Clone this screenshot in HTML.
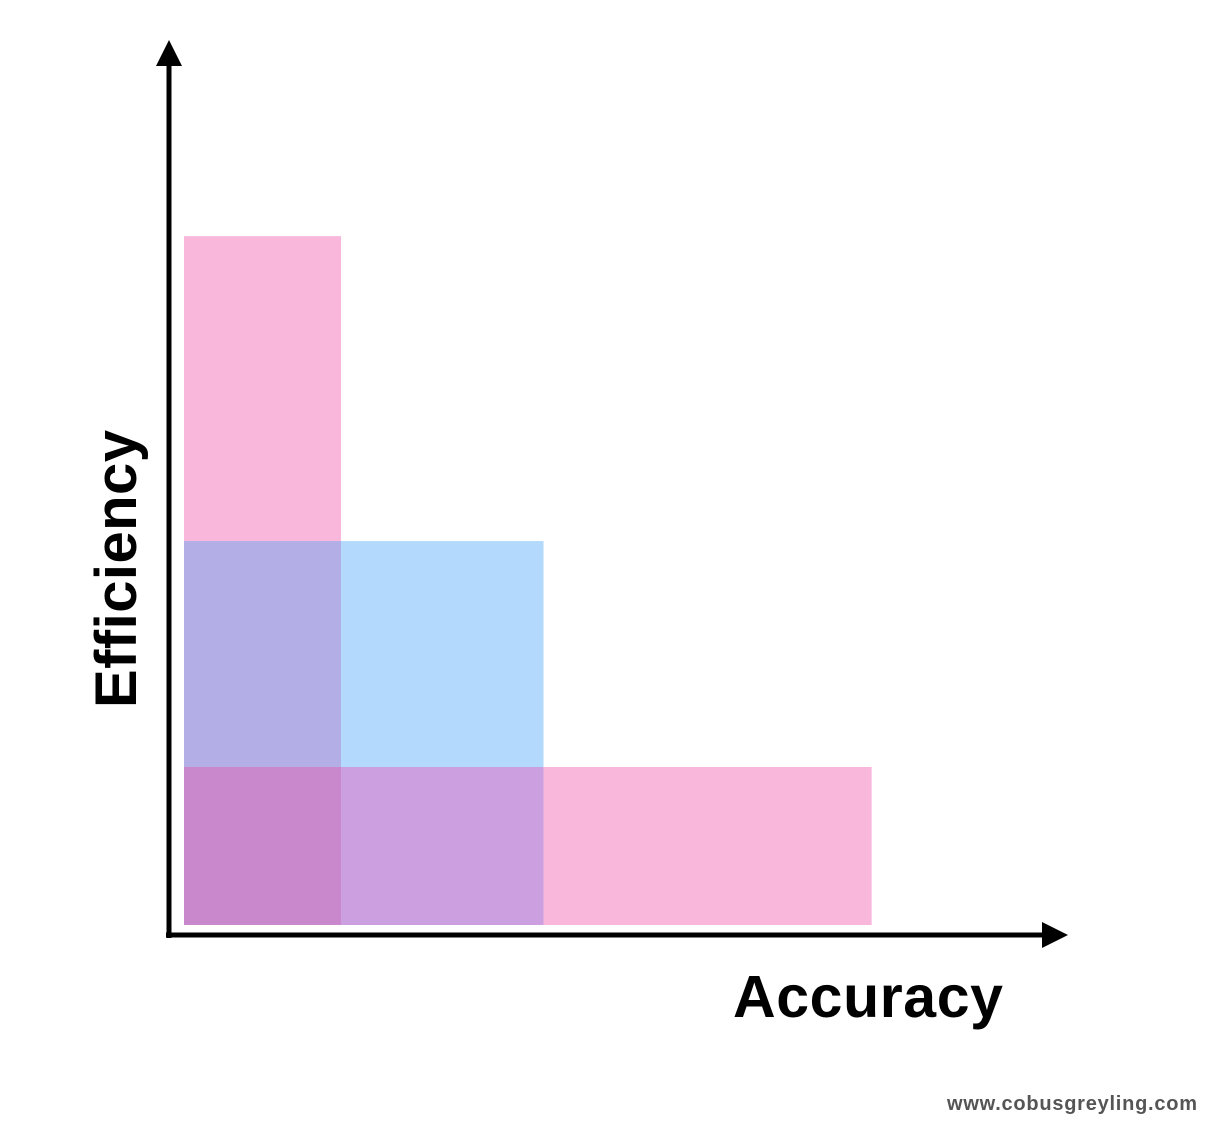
<!DOCTYPE html>
<html>
<head>
<meta charset="utf-8">
<style>
  html,body{margin:0;padding:0;background:#fff;width:1232px;height:1148px;overflow:hidden;}
  svg{display:block;}
</style>
</head>
<body>
<svg id="chart" width="1232" height="1148" viewBox="0 0 1232 1148">
  <rect x="0" y="0" width="1232" height="1148" fill="#ffffff"/>
  <g id="bars"></g>
  <g>
    <line x1="169" y1="60" x2="169" y2="938" stroke="#000" stroke-width="5"/>
    <polygon points="156,66 169,40 182,66" fill="#000"/>
    <line x1="166" y1="935" x2="1048" y2="935" stroke="#000" stroke-width="5"/>
    <polygon points="1042,922 1068,935 1042,948" fill="#000"/>
  </g>
  <text x="868" y="1017" text-anchor="middle" textLength="270" font-family="Liberation Sans, sans-serif" font-weight="bold" font-size="59" fill="#000">Accuracy</text>
  <text transform="translate(136,569) rotate(-90)" text-anchor="middle" textLength="278" font-family="Liberation Sans, sans-serif" font-weight="bold" font-size="58" fill="#000">Efficiency</text>
  <text x="1197" y="1110" text-anchor="end" textLength="250" font-family="Liberation Sans, sans-serif" font-weight="bold" font-size="20" fill="#555">www.cobusgreyling.com</text>
</svg>
<script>
const seriesNames = ["high-efficiency", "balanced", "high-accuracy"];
const accuracyValues = [1, 2.29, 4.38];
const efficiencyValues = [4.36, 2.43, 1];
const barColors = ["#f9b8db", "#b3d9fc", "#f9b8db"];

const x0 = 184, y0 = 925, xUnit = 157, yUnit = 158;
function xScale(v){ return x0 + v * xUnit; }
function yScale(v){ return y0 - v * yUnit; }

const g = document.getElementById('bars');
const ns = 'http://www.w3.org/2000/svg';
function drawRect(acc, eff, color, name){
  const r = document.createElementNS(ns, 'rect');
  r.setAttribute('x', xScale(0));
  r.setAttribute('y', yScale(eff));
  r.setAttribute('width', xScale(acc) - xScale(0));
  r.setAttribute('height', yScale(0) - yScale(eff));
  r.setAttribute('fill', color);
  
  
  g.appendChild(r);
}
for (let i = 0; i < accuracyValues.length; i++) {
  drawRect(accuracyValues[i], efficiencyValues[i], barColors[i], 'bar-' + seriesNames[i]);
}
// overlap regions (intersections derived from data)
function drawOverlap(x1, x2, e1, e2, color, name){
  const r = document.createElementNS(ns, 'rect');
  r.setAttribute('x', xScale(x1));
  r.setAttribute('y', yScale(e2));
  r.setAttribute('width', xScale(x2) - xScale(x1));
  r.setAttribute('height', yScale(e1) - yScale(e2));
  r.setAttribute('fill', color);
  
  
  g.appendChild(r);
}
drawOverlap(0, Math.min(accuracyValues[0], accuracyValues[1]), efficiencyValues[2], Math.min(efficiencyValues[0], efficiencyValues[1]), '#b3aee6', 'overlap-efficiency-balanced');
drawOverlap(accuracyValues[0], Math.min(accuracyValues[1], accuracyValues[2]), 0, Math.min(efficiencyValues[1], efficiencyValues[2]), '#cca0e0', 'overlap-balanced-accuracy');
drawOverlap(0, accuracyValues[0], 0, efficiencyValues[2], '#c987cc', 'overlap-all');
</script>
</body>
</html>
